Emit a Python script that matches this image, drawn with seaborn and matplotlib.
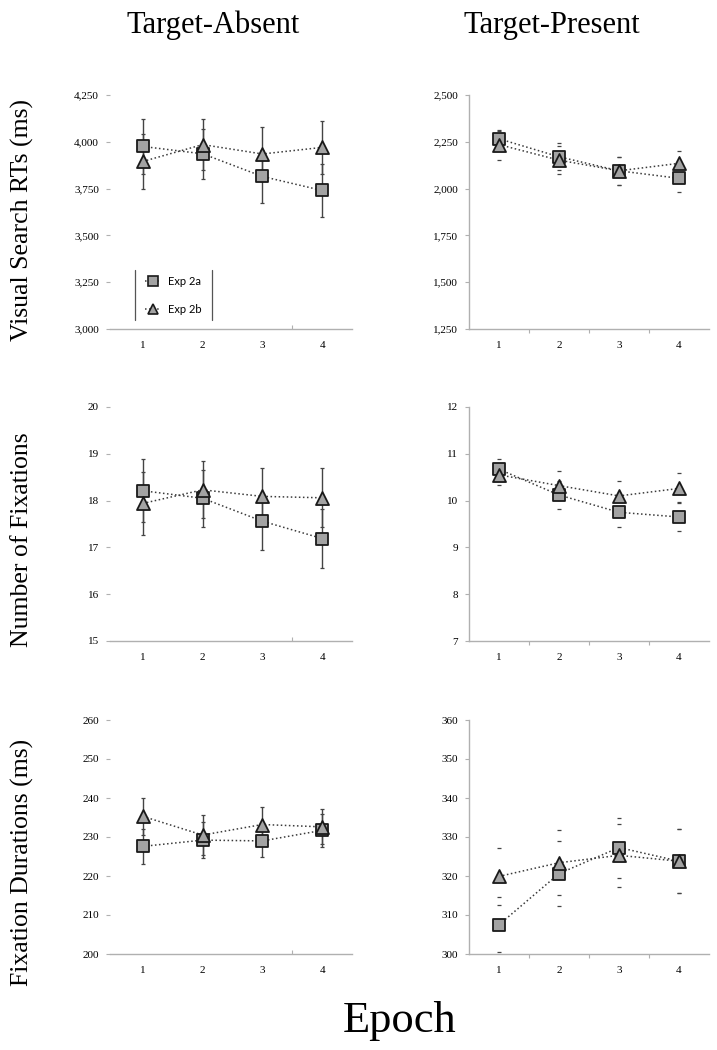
import matplotlib
matplotlib.use("Agg")
import matplotlib.pyplot as plt
import matplotlib.ticker as mticker
from matplotlib.lines import Line2D
import seaborn as sns

epochs = [1, 2, 3, 4]

rt_absent_2a = [3975, 3936, 3815, 3740]
rt_absent_2a_se = [148, 135, 140, 142]
rt_absent_2b = [3895, 3985, 3935, 3970]
rt_absent_2b_se = [146, 137, 145, 142]
rt_present_2a = [2266, 2170, 2095, 2055]
rt_present_2a_se = [40, 73, 75, 71]
rt_present_2b = [2235, 2152, 2095, 2135]
rt_present_2b_se = [80, 76, 75, 68]

fix_absent_2a = [18.21, 18.05, 17.56, 17.19]
fix_absent_2a_se = [0.67, 0.61, 0.61, 0.64]
fix_absent_2b = [17.94, 18.23, 18.09, 18.06]
fix_absent_2b_se = [0.67, 0.61, 0.61, 0.63]
fix_present_2a = [10.67, 10.12, 9.75, 9.65]
fix_present_2a_se = [0.21, 0.30, 0.31, 0.31]
fix_present_2b = [10.55, 10.32, 10.10, 10.26]
fix_present_2b_se = [0.21, 0.31, 0.31, 0.32]

dur_absent_2a = [227.6, 229.2, 229.0, 231.7]
dur_absent_2a_se = [4.4, 4.7, 4.1, 4.3]
dur_absent_2b = [235.3, 230.5, 233.2, 232.6]
dur_absent_2b_se = [4.7, 5.1, 4.5, 4.5]
dur_present_2a = [307.5, 320.6, 327.3, 323.8]
dur_present_2a_se = [7.1, 8.3, 7.7, 8.2]
dur_present_2b = [319.9, 323.4, 325.3, 323.8]
dur_present_2b_se = [7.4, 8.3, 8.0, 8.2]

col_titles = ["Target-Absent", "Target-Present"]
row_labels = ["Visual Search RTs (ms)", "Number of Fixations", "Fixation Durations (ms)"]
legend_labels = ["Exp 2a", "Exp 2b"]

y_ranges = [
    [(3000, 4250, 250), (1250, 2500, 250)],
    [(15, 20, 1), (7, 12, 1)],
    [(200, 260, 10), (300, 360, 10)],
]

panels = [
    [(rt_absent_2a, rt_absent_2a_se, rt_absent_2b, rt_absent_2b_se),
     (rt_present_2a, rt_present_2a_se, rt_present_2b, rt_present_2b_se)],
    [(fix_absent_2a, fix_absent_2a_se, fix_absent_2b, fix_absent_2b_se),
     (fix_present_2a, fix_present_2a_se, fix_present_2b, fix_present_2b_se)],
    [(dur_absent_2a, dur_absent_2a_se, dur_absent_2b, dur_absent_2b_se),
     (dur_present_2a, dur_present_2a_se, dur_present_2b, dur_present_2b_se)],
]

sns.set_style("white")
plt.rcParams["font.family"] = ["Liberation Serif", "DejaVu Serif"]
plt.rcParams["text.color"] = "black"
plt.rcParams["xtick.labelcolor"] = "black"
plt.rcParams["ytick.labelcolor"] = "black"

W, H = 717, 1050
fig = plt.figure(figsize=(W / 100, H / 100), dpi=100)

fill = "#a3a3a3"
edge = "#1a1a1a"
line_col = "#3a3a3a"
spine_col = "#b0b0b0"

col_left = [110, 469]
col_width = [242, 240]
row_top = [95, 407, 720]
row_h = 234

axes = []
for r in range(3):
    for c in range(2):
        ax = fig.add_axes([col_left[c] / W, 1 - (row_top[r] + row_h) / H,
                           col_width[c] / W, row_h / H])
        axes.append(ax)
        a_vals, a_se, b_vals, b_se = panels[r][c]
        lo, hi, step = y_ranges[r][c]

        # error bars: full whiskers on the left, caps only on the right
        elw = 1.0 if c == 0 else 0
        for vals, se in [(a_vals, a_se), (b_vals, b_se)]:
            ax.errorbar(epochs, vals, yerr=se, fmt="none", ecolor="#444444",
                        elinewidth=elw, capsize=1.6, capthick=0.9, zorder=1)

        sns.lineplot(x=epochs, y=a_vals, ax=ax, color=line_col, linestyle=":",
                     lw=1.1, zorder=2, legend=False)
        sns.lineplot(x=epochs, y=b_vals, ax=ax, color=line_col, linestyle=":",
                     lw=1.1, zorder=2, legend=False)
        sns.scatterplot(x=epochs, y=a_vals, ax=ax, marker="s", s=72, color=fill,
                        edgecolor=edge, linewidth=1.3, zorder=3, legend=False)
        sns.scatterplot(x=epochs, y=b_vals, ax=ax, marker="^", s=88, color=fill,
                        edgecolor=edge, linewidth=1.3, zorder=4, legend=False)

        if c == 0:
            ax.set_xlim(0.45, 4.5)
        else:
            ax.set_xlim(0.5, 4.5)
        ax.set_ylim(lo, hi)
        ax.set_yticks([lo + i * step for i in range(int(round((hi - lo) / step)) + 1)])
        if r == 0:
            ax.yaxis.set_major_formatter(mticker.FuncFormatter(lambda v, p: f"{v:,.0f}"))
        else:
            ax.yaxis.set_major_formatter(mticker.FuncFormatter(lambda v, p: f"{v:.0f}"))
        ax.set_xticks(epochs)
        ax.set_xticks([3.5] if c == 0 else [1.5, 2.5, 3.5], minor=True)

        for s in ["top", "right"]:
            ax.spines[s].set_visible(False)
        ax.spines["left"].set_visible(c == 1)
        ax.spines["bottom"].set_color(spine_col)
        ax.spines["left"].set_color(spine_col)
        ax.spines["bottom"].set_linewidth(1.0)
        ax.spines["left"].set_linewidth(1.0)

        ax.tick_params(axis="y", which="major", left=True, length=3, width=0.8,
                       color=spine_col, pad=5, labelsize=8, direction="out")
        ax.tick_params(axis="x", which="major", bottom=False, pad=5, labelsize=8)
        ax.tick_params(axis="x", which="minor", bottom=True, length=3, width=0.8,
                       color=spine_col, direction="in" if c == 0 else "out")
        ax.set_xlabel("")
        ax.set_ylabel("")

# legend in the first panel, framed only by two vertical rules
ax0 = axes[0]
handles = [
    Line2D([], [], color=line_col, linestyle=":", lw=1.1, marker="s",
           markersize=6.5, markerfacecolor=fill, markeredgecolor=edge, markeredgewidth=1.2),
    Line2D([], [], color=line_col, linestyle=":", lw=1.1, marker="^",
           markersize=7, markerfacecolor=fill, markeredgecolor=edge, markeredgewidth=1.2),
]
ax0.legend(handles, legend_labels, loc="center", bbox_to_anchor=(0.262, 0.143),
           frameon=False, handlelength=1.4, labelspacing=1.5, handletextpad=0.6,
           prop={"family": "Lato", "size": 8})
for xf in [0.103, 0.421]:
    ax0.plot([xf, xf], [0.038, 0.252], transform=ax0.transAxes, color="#555555",
             lw=0.9, clip_on=False)

for c, t in enumerate(col_titles):
    fig.text([213 / W, 552 / W][c], 1 - 25 / H, t, ha="center", va="center", fontsize=22)

for r, lab in enumerate(row_labels):
    fig.text(22 / W, 1 - [220, 540, 862][r] / H, lab, rotation=90, ha="center",
             va="center", fontsize=18.5)

fig.text(400 / W, 1 - 1021 / H, "Epoch", ha="center", va="center", fontsize=32)

fig.savefig("out.png", dpi=100)
